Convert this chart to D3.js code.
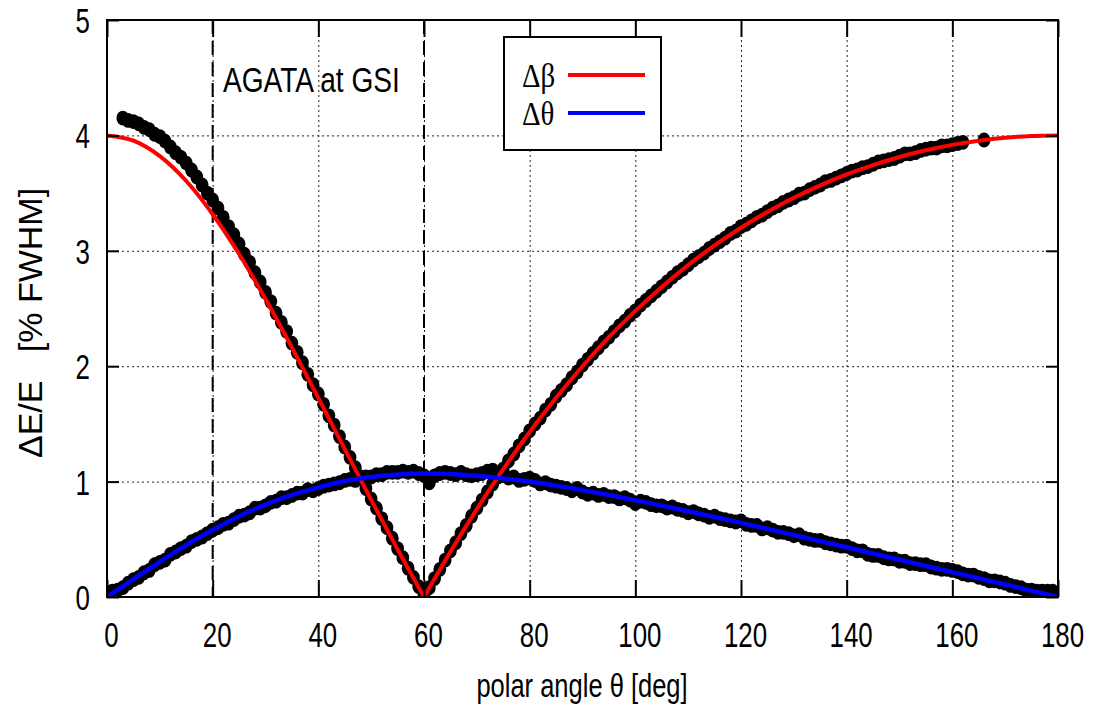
<!DOCTYPE html>
<html>
<head>
<meta charset="utf-8">
<script src="https://cdn.jsdelivr.net/npm/d3@7"></script>
<style>
  html, body { margin: 0; padding: 0; background: #fff; }
  svg { display: block; }
</style>
</head>
<body>
<svg id="chart" width="1101" height="713"></svg>
<script>
// Doppler-correction resolution of AGATA at GSI versus polar angle.

// Theoretical curves, sampled every 5 degrees
const curveTheta = [0,5,10,15,20,25,30,35,40,45,50,55,60,65,70,75,80,85,90,
  95,100,105,110,115,120,125,130,135,140,145,150,155,160,165,170,175,180];
const dBetaCurve = [4.000,3.954,3.820,3.605,3.317,2.972,2.582,2.162,1.725,1.282,0.842,0.413,0.000,
  0.392,0.762,1.108,1.430,1.727,2.000,2.251,2.479,2.687,2.876,3.047,3.200,3.337,3.459,3.567,
  3.662,3.743,3.813,3.871,3.918,3.954,3.980,3.995,4.000];
const dThetaCurve = [0.000,0.155,0.305,0.450,0.580,0.700,0.800,0.885,0.950,1.005,1.040,1.062,1.070,
  1.065,1.050,1.028,1.000,0.965,0.926,0.884,0.838,0.792,0.743,0.693,0.642,0.590,0.537,0.484,
  0.431,0.377,0.323,0.269,0.216,0.162,0.108,0.054,0.000];

// Simulated points, one per degree
const betaPointsFrom = 3;
const betaPoints = [
  4.15,4.13,4.12,4.10,4.07,4.05,4.01,3.99,3.95,3.90,
  3.85,3.81,3.76,3.70,3.64,3.57,3.50,3.44,3.37,3.29,
  3.21,3.14,3.06,2.97,2.90,2.81,2.73,2.64,2.56,2.46,
  2.38,2.30,2.20,2.12,2.03,1.93,1.84,1.76,1.67,1.57,
  1.49,1.39,1.30,1.21,1.12,1.04,0.94,0.85,0.77,0.68,
  0.60,0.51,0.42,0.34,0.25,0.17,0.09,0.02,0.08,0.16,
  0.24,0.32,0.40,0.47,0.55,0.62,0.70,0.77,0.84,0.91,
  0.98,1.05,1.11,1.18,1.24,1.31,1.37,1.44,1.50,1.55,
  1.62,1.67,1.74,1.79,1.84,1.90,1.95,2.01,2.06,2.11,
  2.16,2.21,2.25,2.30,2.35,2.39,2.44,2.48,2.53,2.57,
  2.61,2.65,2.69,2.73,2.77,2.81,2.84,2.88,2.92,2.95,
  2.98,3.02,3.05,3.08,3.11,3.15,3.17,3.21,3.23,3.26,
  3.29,3.31,3.34,3.37,3.39,3.42,3.44,3.46,3.49,3.50,
  3.53,3.55,3.57,3.60,3.61,3.63,3.65,3.67,3.69,3.70,
  3.72,3.73,3.75,3.77,3.78,3.79,3.80,3.82,3.84,3.84,
  3.85,3.87,3.88,3.89,3.89,3.91,3.91,3.92,3.93,3.94
];
const betaExtraTheta = [166];
const betaExtraValue = [3.96];

const thetaPointsFrom = 0;
const thetaPoints = [
  0.04,0.05,0.06,0.08,0.12,0.15,0.17,0.21,0.23,0.28,
  0.30,0.32,0.37,0.39,0.42,0.44,0.48,0.50,0.52,0.55,
  0.58,0.60,0.63,0.64,0.67,0.70,0.71,0.73,0.77,0.77,
  0.79,0.82,0.83,0.86,0.86,0.88,0.90,0.90,0.93,0.92,
  0.94,0.96,0.97,0.98,0.99,1.01,1.02,1.01,1.03,1.04,
  1.04,1.06,1.06,1.08,1.08,1.08,1.09,1.08,1.09,1.07,
  1.05,0.99,1.05,1.07,1.08,1.07,1.06,1.08,1.06,1.05,
  1.06,1.07,1.09,1.10,1.04,1.05,1.03,1.04,1.01,1.02,
  1.03,1.01,0.98,0.99,0.97,0.96,0.95,0.94,0.92,0.94,
  0.91,0.89,0.90,0.88,0.89,0.87,0.87,0.85,0.86,0.84,
  0.81,0.83,0.82,0.80,0.79,0.79,0.77,0.78,0.76,0.75,
  0.73,0.74,0.72,0.71,0.69,0.70,0.68,0.67,0.66,0.65,
  0.66,0.63,0.62,0.62,0.59,0.60,0.58,0.56,0.56,0.55,
  0.53,0.54,0.51,0.50,0.49,0.49,0.47,0.46,0.45,0.44,
  0.44,0.42,0.40,0.40,0.37,0.36,0.36,0.34,0.33,0.33,
  0.31,0.31,0.29,0.29,0.28,0.28,0.26,0.25,0.24,0.24,
  0.23,0.22,0.20,0.19,0.19,0.17,0.16,0.14,0.14,0.13,
  0.12,0.10,0.09,0.08,0.06,0.06,0.05,0.05,0.05,0.05
];

// Axis ticks
const xTicks = [0,20,40,60,80,100,120,140,160,180];
const yTicks = [0,1,2,3,4,5];
const xGrid = [20,40,60,80,100,120,140,160];
const yGrid = [1,2,3,4];
const dashedMarks = [20,60];

const legendItems = [
  { label: "Δβ", color: "#ff0000" },
  { label: "Δθ", color: "#0000ff" }
];

// ---------------------------------------------------------------
const svg = d3.select("#chart");
const plotL = 107, plotR = 1058, plotT = 20, plotB = 597;
const x = d3.scaleLinear().domain([0, 180]).range([plotL, plotR]);
const y = d3.scaleLinear().domain([0, 5]).range([plotB, plotT]);
const SANS = "'Liberation Sans', Arial, Helvetica, sans-serif";
const SERIF = "'Liberation Serif', 'Times New Roman', serif";

svg.append("defs").append("clipPath").attr("id", "plotClip")
  .append("rect").attr("x", plotL).attr("y", plotT)
  .attr("width", plotR - plotL).attr("height", plotB - plotT);

// dotted grid
const grid = svg.append("g");
grid.append("g").attr("transform", `translate(0,${plotB})`)
  .call(d3.axisBottom(x).tickValues(xGrid).tickSize(-(plotB - plotT)).tickFormat(""))
  .call(g => g.select(".domain").remove());
grid.append("g").attr("transform", `translate(${plotL},0)`)
  .call(d3.axisLeft(y).tickValues(yGrid).tickSize(-(plotR - plotL)).tickFormat(""))
  .call(g => g.select(".domain").remove());
grid.selectAll("line").attr("stroke", "#222").attr("stroke-width", 1)
  .attr("stroke-dasharray", "2,3");

// long-dashed vertical markers
svg.append("g").selectAll("line").data(dashedMarks).join("line")
  .attr("x1", d => x(d)).attr("x2", d => x(d))
  .attr("y1", plotT).attr("y2", plotB)
  .attr("stroke", "#000").attr("stroke-width", 2)
  .attr("stroke-dasharray", "14,7");

// simulated points
const betaData = betaPoints.map((v, i) => [betaPointsFrom + i, v])
  .concat(betaExtraTheta.map((t, i) => [t, betaExtraValue[i]]));
const thetaData = thetaPoints.map((v, i) => [thetaPointsFrom + i, v]);
const dots = svg.append("g").attr("clip-path", "url(#plotClip)");
dots.selectAll("ellipse.b").data(betaData).join("ellipse").attr("class", "b")
  .attr("cx", d => x(d[0])).attr("cy", d => y(d[1]))
  .attr("rx", 6.4).attr("ry", 7.4).attr("fill", "#000");
dots.selectAll("ellipse.t").data(thetaData).join("ellipse").attr("class", "t")
  .attr("cx", d => x(d[0])).attr("cy", d => y(d[1]))
  .attr("rx", 6.4).attr("ry", 7.4).attr("fill", "#000");

// theoretical curves
const line = d3.line().x(d => x(d[0])).y(d => y(d[1])).curve(d3.curveMonotoneX);
const betaPairs = curveTheta.map((t, i) => [t, dBetaCurve[i]]);
const thetaPairs = curveTheta.map((t, i) => [t, dThetaCurve[i]]);
const vIdx = curveTheta.indexOf(60);
const curves = svg.append("g").attr("clip-path", "url(#plotClip)");
[betaPairs.slice(0, vIdx + 1), betaPairs.slice(vIdx)].forEach(seg => {
  curves.append("path").attr("d", line(seg)).attr("fill", "none")
    .attr("stroke", legendItems[0].color).attr("stroke-width", 4);
});
curves.append("path").attr("d", line(thetaPairs)).attr("fill", "none")
  .attr("stroke", legendItems[1].color).attr("stroke-width", 4.5);

// axes with inward ticks (mirrored on all sides)
function styleTicks(g) {
  g.select(".domain").remove();
  g.selectAll("line").attr("stroke", "#000").attr("stroke-width", 2);
}
const xAxis = svg.append("g").attr("transform", `translate(0,${plotB})`)
  .call(d3.axisBottom(x).tickValues(xTicks).tickSizeInner(-17).tickSizeOuter(0).tickFormat(d3.format("d")))
  .call(styleTicks);
xAxis.attr("font-family", SANS).attr("font-size", 35);
xAxis.selectAll("text").attr("y", null).attr("dy", null).attr("fill", "#000")
  .attr("transform", "translate(4,50) scale(0.74,1)");

svg.append("g").attr("transform", `translate(0,${plotT})`)
  .call(d3.axisTop(x).tickValues(xTicks).tickSizeInner(-17).tickSizeOuter(0).tickFormat(""))
  .call(styleTicks);

const yAxis = svg.append("g").attr("transform", `translate(${plotL},0)`)
  .call(d3.axisLeft(y).tickValues(yTicks).tickSizeInner(-12).tickSizeOuter(0).tickFormat(d3.format("d")))
  .call(styleTicks);
yAxis.attr("font-family", SANS).attr("font-size", 35);
yAxis.selectAll("text").attr("x", null).attr("dy", null).attr("fill", "#000")
  .attr("text-anchor", "end")
  .attr("transform", "translate(-17,12.5) scale(0.74,1)");

svg.append("g").attr("transform", `translate(${plotR},0)`)
  .call(d3.axisRight(y).tickValues(yTicks).tickSizeInner(-12).tickSizeOuter(0).tickFormat(""))
  .call(styleTicks);

// frame
svg.append("rect").attr("x", plotL).attr("y", plotT)
  .attr("width", plotR - plotL).attr("height", plotB - plotT)
  .attr("fill", "none").attr("stroke", "#000").attr("stroke-width", 2);

// titles
function narrowText(px, py, txt, size, sx, anchor, family) {
  svg.append("g").attr("transform", `translate(${px},${py})`)
    .append("text").attr("transform", `scale(${sx},1)`)
    .attr("text-anchor", anchor).attr("font-family", family)
    .attr("font-size", size).attr("fill", "#000").text(txt);
}
narrowText(223, 92, "AGATA at GSI", 36, 0.78, "start", SANS);
narrowText(582, 697, "polar angle θ [deg]", 34, 0.75, "middle", SANS);

svg.append("text")
  .attr("transform", `translate(42,323) rotate(-90)`)
  .attr("text-anchor", "middle").attr("font-family", SANS)
  .attr("font-size", 34).attr("fill", "#000")
  .style("white-space", "pre")
  .text("ΔE/E   [% FWHM]");

// legend
const legend = svg.append("g");
legend.append("rect").attr("x", 504).attr("y", 37).attr("width", 157).attr("height", 113)
  .attr("fill", "#fff").attr("stroke", "#000").attr("stroke-width", 2);
legendItems.forEach((item, i) => {
  const ly = 75 + i * 38;
  legend.append("line").attr("x1", 568).attr("x2", 645).attr("y1", ly).attr("y2", ly)
    .attr("stroke", item.color).attr("stroke-width", 4);
  legend.append("g").attr("transform", `translate(522,${ly + 12})`)
    .append("text").attr("transform", "scale(0.85,1)")
    .attr("font-family", SERIF).attr("font-size", 34).attr("fill", "#000")
    .text(item.label);
});
</script>
</body>
</html>
